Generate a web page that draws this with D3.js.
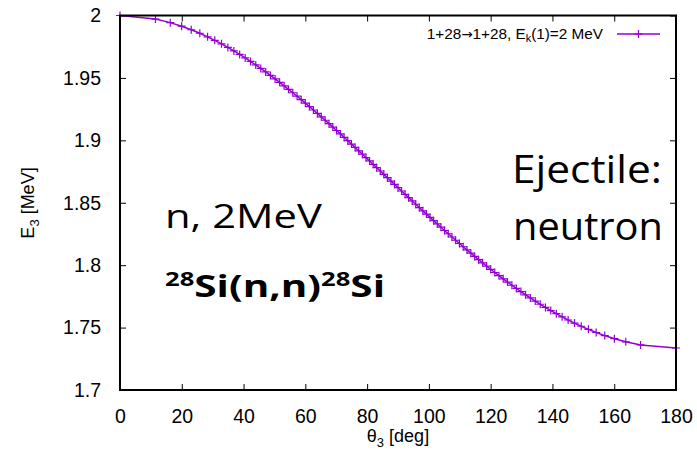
<!DOCTYPE html>
<html>
<head>
<meta charset="utf-8">
<script src="https://cdn.jsdelivr.net/npm/d3@7"></script>
<style>
  body { margin: 0; background: #fff; }
</style>
</head>
<body>
<div id="chart"></div>
<script>
// ****data****
const theta3 = [0, 11.48, 16.26, 19.95, 23.07, 25.84, 28.36, 30.68, 32.86, 34.92,
  36.87, 38.74, 40.54, 42.27, 43.95, 45.57, 47.16, 48.70, 50.21, 51.68,
  53.13, 54.55, 55.94, 57.32, 58.67, 60.00, 61.31, 62.61, 63.90, 65.17,
  66.42, 67.67, 68.90, 70.12, 71.34, 72.54, 73.74, 74.93, 76.11, 77.29,
  78.46, 79.63, 80.79, 81.95, 83.11, 84.26, 85.41, 86.56, 87.71, 88.85,
  90.00, 91.15, 92.29, 93.44, 94.59, 95.74, 96.89, 98.05, 99.21, 100.37,
  101.54, 102.71, 103.89, 105.07, 106.26, 107.46, 108.66, 109.88, 111.10, 112.33,
  113.58, 114.83, 116.10, 117.39, 118.69, 120.00, 121.33, 122.68, 124.06, 125.45,
  126.87, 128.32, 129.79, 131.30, 132.84, 134.43, 136.05, 137.73, 139.46, 141.26,
  143.13, 145.08, 147.14, 149.32, 151.64, 154.16, 156.93, 160.05, 163.74, 168.52, 180];
const energy3 = [2.0000, 1.99714, 1.99429, 1.99145, 1.98860, 1.98577, 1.98293, 1.98010, 1.97727, 1.97445,
  1.97163, 1.96881, 1.96600, 1.96320, 1.96039, 1.95759, 1.95480, 1.95201, 1.94922, 1.94643,
  1.94365, 1.94088, 1.93811, 1.93534, 1.93257, 1.92981, 1.92706, 1.92431, 1.92156, 1.91881,
  1.91607, 1.91334, 1.91060, 1.90787, 1.90515, 1.90243, 1.89971, 1.89700, 1.89429, 1.89158,
  1.88888, 1.88618, 1.88349, 1.88080, 1.87811, 1.87543, 1.87275, 1.87007, 1.86740, 1.86473,
  1.86207, 1.85941, 1.85675, 1.85410, 1.85145, 1.84881, 1.84617, 1.84353, 1.84090, 1.83827,
  1.83564, 1.83302, 1.83040, 1.82779, 1.82518, 1.82257, 1.81996, 1.81737, 1.81477, 1.81218,
  1.80959, 1.80700, 1.80442, 1.80185, 1.79927, 1.79670, 1.79414, 1.79157, 1.78902, 1.78646,
  1.78391, 1.78136, 1.77882, 1.77628, 1.77374, 1.77121, 1.76868, 1.76615, 1.76363, 1.76111,
  1.75860, 1.75609, 1.75358, 1.75108, 1.74858, 1.74608, 1.74359, 1.74110, 1.73861, 1.73613, 1.73365];
const xTicks = [0, 20, 40, 60, 80, 100, 120, 140, 160, 180];
const yTicks = [1.7, 1.75, 1.8, 1.85, 1.9, 1.95, 2];

// ****configuration****
const w = 697;
const h = 452;
const plot = { left: 120, right: 676, top: 15.5, bottom: 390 };
const lineColor = "#9400d3";
const tickLen = 6;
const axisFont = "'Liberation Sans', Arial, sans-serif";
const bigFont = "'Open Sans', 'Noto Sans', sans-serif";

const svg = d3.select("#chart").append("svg")
    .attr("width", w)
    .attr("height", h)
    .style("font-family", axisFont);

const x = d3.scaleLinear().domain([0, 180]).range([plot.left, plot.right]);
const y = d3.scaleLinear().domain([1.7, 2]).range([plot.bottom, plot.top]);

const points = theta3.map((t, i) => [t, energy3[i]]);

// axes, gnuplot style: ticks point inward and are mirrored
svg.append("g")
    .attr("transform", "translate(0," + plot.bottom + ")")
    .call(d3.axisBottom(x).tickValues(xTicks).tickSize(-tickLen).tickPadding(19).tickFormat(d3.format("d")))
    .call(g => g.select(".domain").remove());
svg.append("g")
    .attr("transform", "translate(0," + plot.top + ")")
    .call(d3.axisTop(x).tickValues(xTicks).tickSize(-tickLen).tickFormat(""))
    .call(g => g.select(".domain").remove());
svg.append("g")
    .attr("transform", "translate(" + plot.left + ",0)")
    .call(d3.axisLeft(y).tickValues(yTicks).tickSize(-tickLen).tickPadding(19).tickFormat(d => String(+d.toFixed(2))))
    .call(g => g.select(".domain").remove());
svg.append("g")
    .attr("transform", "translate(" + plot.right + ",0)")
    .call(d3.axisRight(y).tickValues(yTicks).tickSize(-tickLen).tickFormat(""))
    .call(g => g.select(".domain").remove());

svg.selectAll(".tick line").attr("stroke", "#000").attr("stroke-width", 1);
svg.selectAll(".tick text")
    .attr("fill", "#000")
    .style("font-size", "19.5px")
    .style("font-family", axisFont);

// curve
const line = d3.line().x(d => x(d[0])).y(d => y(d[1]));
svg.append("path")
    .datum(points)
    .attr("fill", "none")
    .attr("stroke", lineColor)
    .attr("stroke-width", 1.5)
    .attr("d", line);

svg.selectAll(".pt")
    .data(points)
    .enter()
    .append("path")
    .attr("class", "pt")
    .attr("d", "M-4,0H4M0,-4V4")
    .attr("stroke", lineColor)
    .attr("stroke-width", 1.2)
    .attr("transform", d => "translate(" + x(d[0]) + "," + y(d[1]) + ")");

// frame
svg.append("rect")
    .attr("x", plot.left)
    .attr("y", plot.top)
    .attr("width", plot.right - plot.left)
    .attr("height", plot.bottom - plot.top)
    .attr("fill", "none")
    .attr("stroke", "#000")
    .attr("stroke-width", 2);

// legend
const leg = svg.append("text")
    .attr("x", 603)
    .attr("y", 38.5)
    .attr("text-anchor", "end")
    .style("font-size", "15.3px");
leg.append("tspan").text("1+28");
leg.append("tspan").style("font-family", "'DejaVu Sans', sans-serif").style("font-size", "13.5px").text("\u2192");
leg.append("tspan").text("1+28, E");
leg.append("tspan").attr("dy", 3).style("font-size", "11px").text("k");
leg.append("tspan").attr("dy", -3).text("(1)=2 MeV");
svg.append("line")
    .attr("x1", 617).attr("x2", 660)
    .attr("y1", 34).attr("y2", 34)
    .attr("stroke", lineColor)
    .attr("stroke-width", 1.5);
svg.append("path")
    .attr("d", "M-4,0H4M0,-4V4")
    .attr("stroke", lineColor)
    .attr("stroke-width", 1.2)
    .attr("transform", "translate(638.5,34)");

// axis titles
const yl = svg.append("text")
    .attr("transform", "translate(34,203) rotate(-90)")
    .attr("text-anchor", "middle")
    .style("font-size", "18px");
yl.append("tspan").text("E");
yl.append("tspan").attr("dy", 5).style("font-size", "13px").text("3");
yl.append("tspan").attr("dy", -5).text(" [MeV]");

const xl = svg.append("text")
    .attr("x", 398)
    .attr("y", 442)
    .attr("text-anchor", "middle")
    .style("font-size", "18px");
xl.append("tspan").text("\u03b8");
xl.append("tspan").attr("dy", 5).style("font-size", "13px").text("3");
xl.append("tspan").attr("dy", -5).text(" [deg]");

// annotations (slide text, stretched horizontally to the widths seen in the picture)
function fitWidth(sel, left, base, width) {
    const len = sel.node().getBBox().width;
    sel.attr("transform", "translate(" + left + "," + base + ") scale(" + (width / len) + ",1)");
}

const t1 = svg.append("text")
    .style("font-family", bigFont)
    .style("font-size", "32px")
    .text("n, 2MeV");
fitWidth(t1, 165, 228, 158);

const rx = svg.append("text")
    .style("font-family", bigFont)
    .style("font-weight", "bold")
    .style("font-size", "30px");
rx.append("tspan").attr("dy", -11).style("font-size", "19px").text("28");
rx.append("tspan").attr("dy", 11).text("Si(n,n)");
rx.append("tspan").attr("dy", -11).style("font-size", "19px").text("28");
rx.append("tspan").attr("dy", 11).text("Si");
fitWidth(rx, 165, 297, 220);

const t3 = svg.append("text")
    .style("font-family", bigFont)
    .style("font-size", "39px")
    .text("Ejectile:");
fitWidth(t3, 512, 183, 150);

const t4 = svg.append("text")
    .style("font-family", bigFont)
    .style("font-size", "39px")
    .text("neutron");
fitWidth(t4, 513, 240, 150);
</script>
</body>
</html>
